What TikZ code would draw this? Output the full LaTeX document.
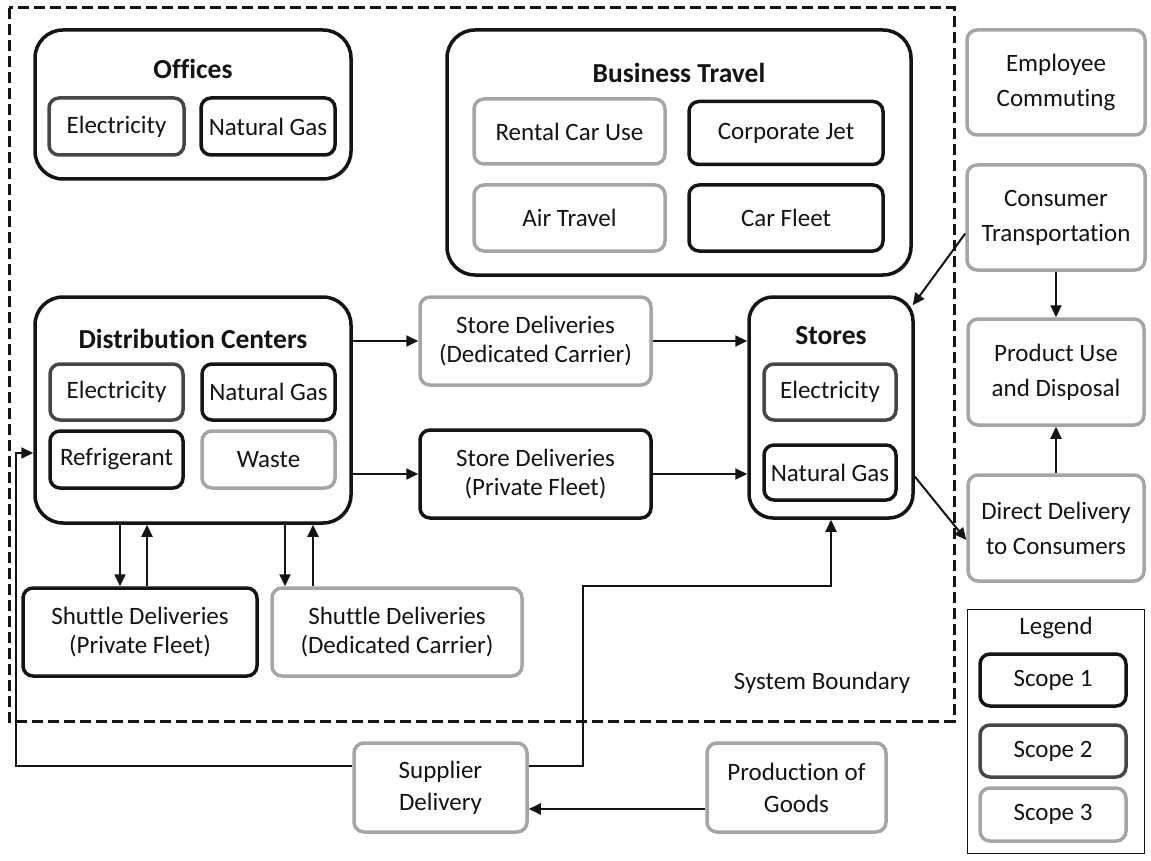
\documentclass[tikz,border=0pt]{standalone}
\usepackage{fontspec}
\setmainfont{Carlito}[Ligatures=NoCommon]
\usetikzlibrary{arrows.meta}
\definecolor{colA}{RGB}{20,20,20}
\definecolor{colB}{RGB}{70,70,70}
\definecolor{colC}{RGB}{165,165,165}
\tikzset{
  box/.style={rectangle, rounded corners=10pt, line width=3.5pt, align=center, inner sep=0pt,
    font=\fontsize{25}{29}\selectfont, fill=white, text=colA},
  scopeA/.style={box, draw=colA},
  scopeB/.style={box, draw=colB},
  scopeC/.style={box, draw=colC},
  wide/.style={font=\fontsize{25}{35}\selectfont},
  mid/.style={font=\fontsize{25}{32}\selectfont},
  cont/.style={rectangle, rounded corners=28pt, line width=3.5pt, draw=colA, inner sep=0pt},
  ttl/.style={font=\fontsize{27.5}{32}\selectfont\bfseries, inner sep=0pt, text=colA},
  plain/.style={font=\fontsize{25}{29}\selectfont, inner sep=0pt, align=center, text=colA},
  arr/.style={line width=2pt, draw=colA, -{Triangle[length=12pt,width=11pt]}},
  boundary/.style={line width=3pt, draw=colA, dash pattern=on 11pt off 5pt}
}
\begin{document}
\begin{tikzpicture}[x=1pt, y=-1pt]
\useasboundingbox (0,0) rectangle (1151,861);

% system boundary
\draw[boundary] (9,8) rectangle (954,721);
\node[plain] (sysb) at (822,683) {System Boundary};

% Offices
\node[cont, minimum width=316pt, minimum height=149pt] (off) at (193,104.5) {};
\node[ttl] (offt) at (193,69) {Offices};
\node[scopeB, minimum width=135pt, minimum height=57pt] (oel) at (116.5,126.5) {Electricity};
\node[scopeA, minimum width=134pt, minimum height=57pt] (ong) at (268,126.5) {Natural Gas};

% Business Travel
\node[cont, minimum width=464pt, minimum height=245pt] (bt) at (679,152.5) {};
\node[ttl] (btt) at (679,73) {Business Travel};
\node[scopeC, minimum width=191pt, minimum height=65pt] (rent) at (569.5,131.5) {Rental Car Use};
\node[scopeA, minimum width=194pt, minimum height=63pt] (jet) at (786,133) {Corporate Jet};
\node[scopeC, minimum width=191pt, minimum height=66pt] (air) at (569.5,218) {Air Travel};
\node[scopeA, minimum width=194pt, minimum height=66pt] (fleet) at (786,218) {Car Fleet};

% Right column
\node[scopeC, wide, minimum width=178pt, minimum height=105pt] (emp) at (1056,82.5) {Employee\\Commuting};
\node[scopeC, wide, minimum width=178pt, minimum height=105pt] (ct) at (1056,217.5) {Consumer\\Transportation};
\node[scopeC, wide, minimum width=176pt, minimum height=106pt] (pu) at (1056,372) {Product Use\\and Disposal};
\node[scopeC, wide, minimum width=176pt, minimum height=106pt] (dd) at (1056,528) {Direct Delivery\\to Consumers};

% Distribution Centers
\node[cont, minimum width=316pt, minimum height=226pt] (dc) at (193,410) {};
\node[ttl] (dct) at (193,339) {Distribution Centers};
\node[scopeB, minimum width=133pt, minimum height=56pt] (del) at (116.5,392) {Electricity};
\node[scopeA, minimum width=133pt, minimum height=56pt] (dng) at (268.5,392) {Natural Gas};
\node[scopeA, minimum width=133pt, minimum height=57pt] (dref) at (116.5,459.5) {Refrigerant};
\node[scopeC, minimum width=133pt, minimum height=57pt] (dwaste) at (268.5,459.5) {Waste};

% Store deliveries
\node[scopeC, minimum width=231pt, minimum height=88pt] (sddc) at (535.5,341) {Store Deliveries\\(Dedicated Carrier)};
\node[scopeA, minimum width=231pt, minimum height=88pt] (sdpf) at (535.5,474) {Store Deliveries\\(Private Fleet)};

% Stores
\node[cont, minimum width=164pt, minimum height=221pt, rounded corners=24pt] (st) at (831,407.5) {};
\node[ttl] (stt) at (831,336) {Stores};
\node[scopeB, minimum width=132pt, minimum height=56pt] (sel) at (830,392) {Electricity};
\node[scopeA, minimum width=132pt, minimum height=55pt] (sng) at (830,472.5) {Natural Gas};

% Shuttle deliveries
\node[scopeA, minimum width=234pt, minimum height=88pt] (spf) at (140,632) {Shuttle Deliveries\\(Private Fleet)};
\node[scopeC, minimum width=250pt, minimum height=88pt] (sdc) at (397,632) {Shuttle Deliveries\\(Dedicated Carrier)};

% Outside boundary
\node[scopeC, mid, minimum width=173pt, minimum height=89pt] (sup) at (440.5,787.5) {Supplier\\Delivery};
\node[scopeC, mid, minimum width=179pt, minimum height=89pt] (prod) at (796.5,787.5) {Production of\\Goods};

% Legend
\node[rectangle, draw=colA, line width=1.5pt, minimum width=177pt, minimum height=244pt, inner sep=0pt] (leg) at (1056,731.5) {};
\node[plain] (legt) at (1056,628) {Legend};
\node[scopeA, minimum width=146pt, minimum height=52pt] (l1) at (1053,680) {Scope 1};
\node[scopeB, minimum width=146pt, minimum height=52pt] (l2) at (1053,751) {Scope 2};
\node[scopeC, minimum width=146pt, minimum height=53pt] (l3) at (1053,814.5) {Scope 3};

% connectors
\draw[arr] (sddc.west -| dc.east) -- (sddc.west);
\draw[arr] (sddc.east) -- (sddc.east -| st.west);
\draw[arr] (sdpf.west -| dc.east) -- (sdpf.west);
\draw[arr] (sdpf.east) -- (sdpf.east -| st.west);

\draw[arr] ([yshift=-16pt]ct.west) -- ([xshift=-2pt,yshift=-10pt]st.north east);
\draw[arr] (ct.south) -- (pu.north);
\draw[arr] (dd.north) -- (pu.south);
\draw[arr] ([yshift=-69pt]st.east) -- ([yshift=-12pt]dd.west);

\draw[arr] ([xshift=-73pt]dc.south) -- ([xshift=-73pt]dc.south |- spf.north);
\draw[arr] ([xshift=-46pt]dc.south |- spf.north) -- ([xshift=-46pt]dc.south);
\draw[arr] ([xshift=92pt]dc.south) -- ([xshift=92pt]dc.south |- sdc.north);
\draw[arr] ([xshift=120pt]dc.south |- sdc.north) -- ([xshift=120pt]dc.south);

\draw[arr] ([yshift=22pt]sup.west) -| ([xshift=-17pt,yshift=-43pt]dc.west) -- ([yshift=-43pt]dc.west);
\coordinate (sbend) at (583,586);
\draw[arr] ([yshift=22pt]sup.east) -| (sbend) -| (st.south);
\draw[arr] ([yshift=-21.5pt]prod.west) -- ([yshift=-21.5pt]sup.east);
\end{tikzpicture}
\end{document}
